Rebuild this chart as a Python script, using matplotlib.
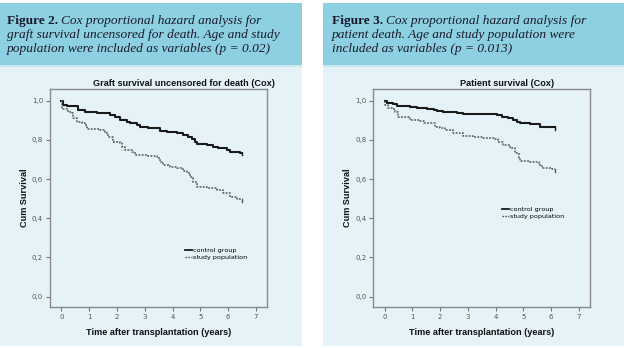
import numpy as np
import matplotlib
matplotlib.use("Agg")
import matplotlib.pyplot as plt
from matplotlib.patches import Rectangle
from matplotlib.lines import Line2D

# graft survival (figure 2)
graft_ctrl_t = [0, 0.05, 0.19, 0.61, 0.85, 1.27, 1.75, 1.93, 2.11, 2.35, 2.47, 2.71, 2.83, 3.13,
                3.49, 3.55, 3.79, 4.15, 4.39, 4.57, 4.69, 4.81, 4.87, 5.23, 5.47, 5.65, 5.95, 6.07, 6.43]
graft_ctrl_s = [1.0, 0.98, 0.973, 0.952, 0.944, 0.935, 0.929, 0.918, 0.90, 0.893, 0.884, 0.876, 0.867, 0.862,
                0.859, 0.847, 0.838, 0.833, 0.825, 0.816, 0.803, 0.791, 0.777, 0.774, 0.765, 0.757, 0.748, 0.740, 0.735]
graft_study_t = [0, 0.01, 0.25, 0.37, 0.43, 0.55, 0.73, 0.85, 0.91, 1.39, 1.57, 1.69, 1.87, 2.11, 2.17, 2.29,
                 2.53, 2.65, 3.13, 3.43, 3.55, 3.67, 3.91, 4.15, 4.39, 4.51, 4.63, 4.75, 4.87, 5.23, 5.59,
                 5.83, 6.07, 6.31]
graft_study_s = [1.0, 0.96, 0.944, 0.935, 0.91, 0.893, 0.888, 0.876, 0.854, 0.850, 0.833, 0.813, 0.791, 0.782,
                 0.765, 0.748, 0.740, 0.723, 0.718, 0.706, 0.689, 0.672, 0.663, 0.655, 0.643, 0.629, 0.612,
                 0.587, 0.561, 0.556, 0.544, 0.527, 0.510, 0.500]
graft_end = 6.49

# patient survival (figure 3)
pat_ctrl_t = [0, 0.07, 0.31, 0.43, 0.91, 1.16, 1.52, 1.76, 1.88, 2.12, 2.60, 2.84, 3.68, 4.04, 4.22,
              4.46, 4.64, 4.77, 4.89, 5.25, 5.61]
pat_ctrl_s = [1.0, 0.99, 0.983, 0.973, 0.969, 0.963, 0.957, 0.952, 0.947, 0.944, 0.939, 0.934, 0.930, 0.925,
              0.918, 0.910, 0.901, 0.893, 0.884, 0.881, 0.865]
pat_study_t = [0, 0.01, 0.13, 0.31, 0.37, 0.49, 0.85, 0.91, 1.28, 1.40, 1.82, 2.00, 2.18, 2.48, 2.84, 3.20,
               3.56, 3.98, 4.10, 4.28, 4.52, 4.71, 4.83, 4.89, 5.25, 5.55, 5.67, 6.03]
pat_study_s = [1.0, 0.978, 0.961, 0.956, 0.944, 0.918, 0.915, 0.901, 0.898, 0.884, 0.867, 0.859, 0.850, 0.833,
               0.820, 0.816, 0.808, 0.803, 0.791, 0.774, 0.757, 0.731, 0.706, 0.694, 0.689, 0.672, 0.658, 0.652]
pat_end = 6.13

yticks = [0.0, 0.2, 0.4, 0.6, 0.8, 1.0]
ytick_labels = ["0,0", "0,2", "0,4", "0,6", "0,8", "1,0"]
xticks = [0, 1, 2, 3, 4, 5, 6, 7]
legend_labels = ["control group", "study population"]

W, H = 624, 348
fig = plt.figure(figsize=(W / 100, H / 100), dpi=100)
fig.patch.set_facecolor("white")

header_col = "#8dd0e1"
panel_col = "#e5f3f9"
strip_col = "#c8e8f1"


def px_rect(x0, y0, x1, y1, color):
    fig.add_artist(Rectangle((x0 / W, 1 - y1 / H), (x1 - x0) / W, (y1 - y0) / H,
                             transform=fig.transFigure, facecolor=color, edgecolor="none", zorder=0))


for (x0, x1) in [(0, 302), (323, 624)]:
    px_rect(x0, 3, x1, 65, header_col)
    px_rect(x0, 65, x1, 67, strip_col)
    px_rect(x0, 67, x1, 346, panel_col)

renderer = fig.canvas.get_renderer()


def header(x, lines, fignum):
    y = 21
    for i, line in enumerate(lines):
        xx = x
        if i == 0:
            t = fig.text(x / W, 1 - y / H, fignum, family="Liberation Serif", weight="bold",
                         fontsize=9.6, va="center", ha="left", color="#1a1a2a")
            bb = t.get_window_extent(renderer)
            xx = x + bb.width + 3
        fig.text(xx / W, 1 - y / H, line, family="Liberation Serif", style="italic",
                 fontsize=9.6, va="center", ha="left", color="#1a1a2a")
        y += 14


header(7, ["Cox proportional hazard analysis for",
           "graft survival uncensored for death. Age and study",
           "population were included as variables (p = 0.02)"], "Figure 2.")
header(332, ["Cox proportional hazard analysis for",
             "patient death. Age and study population were",
             "included as variables (p = 0.013)"], "Figure 3.")


def km_panel(rect, title, title_x, ct, cs, st, ss, end, leg_xy):
    ax = fig.add_axes(rect)
    ax.set_facecolor(panel_col)
    ax.step(ct + [end], cs + [cs[-1]], where="post", color="#1a1a1a", lw=1.5)
    ax.step(st + [end], ss + [ss[-1]], where="post", color="#555555", lw=1.1,
            linestyle=(0, (1.2, 0.9)))
    ax.plot([end, end], [cs[-1], cs[-1] - 0.012], color="#1a1a1a", lw=1.0)
    ax.plot([end, end], [ss[-1], ss[-1] - 0.015], color="#555555", lw=1.0)
    ax.set_xlim(-0.41, 7.4)
    ax.set_ylim(-0.053, 1.06)
    ax.set_xticks(xticks)
    ax.set_xticklabels([str(v) for v in xticks])
    ax.set_yticks(yticks)
    ax.set_yticklabels(ytick_labels)
    ax.tick_params(labelsize=5, colors="#777777", labelcolor="#555555", length=3, width=0.8, pad=2)
    for sp in ax.spines.values():
        sp.set_color("#8a8a8a")
        sp.set_linewidth(1.0)
    ax.set_xlabel("Time after transplantation (years)", family="Liberation Sans", weight="bold",
                  fontsize=6.6, color="#111111", labelpad=6)
    ax.set_ylabel("Cum Survival", family="Liberation Sans", weight="bold",
                  fontsize=6.6, color="#111111", labelpad=2)
    fig.text(title_x / W, 1 - 84 / H, title, family="Liberation Sans", weight="bold",
             fontsize=6.6, ha="center", va="center", color="#111111")
    handles = [Line2D([], [], color="#1a1a1a", lw=1.3),
               Line2D([], [], color="#555555", lw=1.0, linestyle=(0, (1.2, 0.9)))]
    ax.legend(handles, legend_labels, loc="upper left", bbox_to_anchor=leg_xy,
              bbox_transform=ax.transData, frameon=False, fontsize=4.6, handlelength=1.1,
              handletextpad=0.2, labelspacing=0.25, borderpad=0, borderaxespad=0)
    return ax


km_panel([50 / W, 1 - 307 / H, 217 / W, 218 / H], "Graft survival uncensored for death (Cox)", 184,
         graft_ctrl_t, graft_ctrl_s, graft_study_t, graft_study_s, graft_end, (4.45, 0.25))
km_panel([373.3 / W, 1 - 307 / H, 216.7 / W, 218 / H], "Patient survival (Cox)", 507,
         pat_ctrl_t, pat_ctrl_s, pat_study_t, pat_study_s, pat_end, (4.23, 0.46))

fig.savefig("out.png", dpi=100, facecolor="white")
